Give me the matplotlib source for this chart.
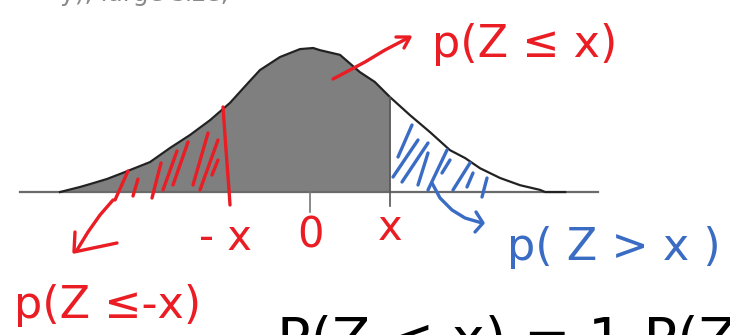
import matplotlib.pyplot as plt

# curve (z in units of the "x" cut, height in density units)
z_pts = [-3.125, -2.875, -2.75, -2.54, -2.34, -2.125, -2.0, -1.75, -1.5, -1.25,
         -1.0, -0.75, -0.625, -0.375, -0.125, 0.04, 0.125, 0.375, 0.625, 0.81,
         1.0, 1.25, 1.5, 1.75, 1.94, 2.125, 2.375, 2.625, 2.875, 2.94, 3.19]
dens = [0.0, 0.014, 0.022, 0.036, 0.053, 0.072, 0.083, 0.122, 0.158, 0.199,
        0.247, 0.308, 0.338, 0.374, 0.396, 0.399, 0.393, 0.380, 0.332, 0.305,
        0.263, 0.213, 0.166, 0.116, 0.094, 0.066, 0.039, 0.019, 0.006, 0.0, 0.0]
x_cut = 1.0
tick_pos = [-1.0, 0.0, 1.0]
tick_txt = ['- x', '0', 'x']

RED = '#ea1c24'
BLUE = '#3a6cc4'

fig = plt.figure(figsize=(7.3, 3.35), dpi=100)
ax = fig.add_axes([0, 0, 1, 1])
ax.set_xlim(-3.875, 5.25)
ax.set_ylim(-0.396, 0.532)
ax.axis('off')

# shaded area and curve
zl = [z for z in z_pts if z <= x_cut]
ax.fill_between(zl, 0, dens[:len(zl)], color='#7f7f7f', lw=0)
ax.plot(z_pts, dens, color='#222222', lw=1.6)
ax.plot([-3.625, 3.6], [0, 0], color='#6a6a6a', lw=1.6, zorder=1)
ax.plot([x_cut, x_cut], [-0.04, dens[z_pts.index(x_cut)]], color='#555555', lw=1.2)
ax.plot([0, 0], [-0.055, 0], color='#777777', lw=1.2)

# hand annotations on a pixel overlay
ov = fig.add_axes([0, 0, 1, 1])
ov.set_xlim(0, 730)
ov.set_ylim(335, 0)
ov.axis('off')
ov.patch.set_alpha(0)

red_strokes = [
    [(128, 171), (115, 200)], [(138, 179), (133, 196)], [(161, 163), (152, 198)],
    [(177, 151), (163, 190)], [(188, 142), (173, 185)], [(208, 133), (193, 185)],
    [(218, 140), (200, 190)], [(218, 160), (212, 175)],
    [(223, 107), (226, 150), (229, 190), (230, 205)],
    [(333, 79), (350, 70), (365, 62), (385, 50), (408, 38)],
    [(396, 37), (410, 37), (404, 48)],
    [(113, 200), (100, 215), (88, 232), (77, 250)],
    [(75, 232), (74, 252), (117, 243)],
]
blue_strokes = [
    [(412, 125), (398, 157)], [(418, 140), (393, 177)], [(428, 143), (402, 182)],
    [(428, 153), (418, 185)], [(447, 150), (428, 190)], [(450, 160), (442, 173)],
    [(470, 163), (453, 190)], [(473, 173), (467, 187)], [(487, 178), (482, 197)],
    [(432, 183), (440, 198), (452, 210), (465, 218), (482, 223)],
    [(476, 212), (483, 223), (475, 232)],
]
for s in red_strokes:
    ov.plot([p[0] for p in s], [p[1] for p in s], color=RED, lw=2.4,
            solid_capstyle='round', solid_joinstyle='round')
for s in blue_strokes:
    ov.plot([p[0] for p in s], [p[1] for p in s], color=BLUE, lw=2.4,
            solid_capstyle='round', solid_joinstyle='round')

# tick labels under the axis
tick_px = [(310 + 80 * t, b) for t, b in zip(tick_pos, [250, 248, 240])]
for (px, base), lab in zip(tick_px, tick_txt):
    ov.text(px - (5 if lab == '- x' else 0), base, lab, color=RED, fontsize=30,
            ha='center', va='baseline')

ov.text(525, 57, 'p(Z ≤ x)', color=RED, fontsize=32, ha='center', va='baseline')
ov.text(108, 318, 'p(Z ≤-x)', color=RED, fontsize=32, ha='center', va='baseline')
ov.text(614, 260, 'p( Z > x )', color=BLUE, fontsize=32, ha='center', va='baseline')

# text cut off at the edges, as in the source screenshot
ov.text(60, 1, 'y), large size,', color='#8a8a8a', fontsize=18, ha='left', va='baseline')
ov.text(277, 356, 'P(Z < x) = 1-P(Z', color='black', fontsize=40, ha='left',
        va='baseline', clip_on=False)

fig.savefig('out.png', dpi=100)
